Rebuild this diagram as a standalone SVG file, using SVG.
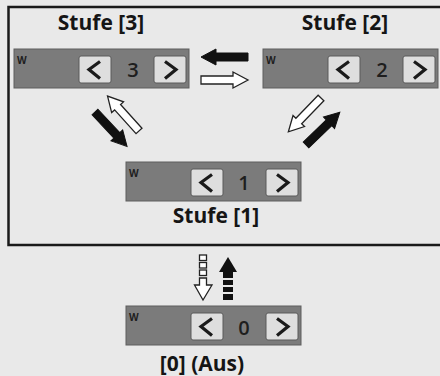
<svg xmlns="http://www.w3.org/2000/svg" xmlns:xlink="http://www.w3.org/1999/xlink" width="440" height="376" viewBox="0 0 440 376">
<style>
.lbl{font-family:"Open Sans","Liberation Sans",sans-serif;font-weight:bold;font-size:21px;fill:#151515;text-anchor:middle}
.num{font-family:"Open Sans","Liberation Sans",sans-serif;font-weight:600;font-size:20px;fill:#1e1e1e;text-anchor:middle}
.w{font-family:"Open Sans","Liberation Sans",sans-serif;font-weight:bold;font-size:10px;fill:#1e1e1e}
.bar{fill:#7b7b7b;stroke:#5e5e5e;stroke-width:1}
.btn{fill:#dedede;stroke:#5a5a5a;stroke-width:1}
.chev{fill:none;stroke:#1a1a1a;stroke-width:3.2;stroke-linejoin:miter}
.ab{fill:#111;stroke:#111;stroke-width:1}
.aw{fill:#fff;stroke:#222;stroke-width:1.3}
</style>
<defs>
<path id="arr" d="M0,-4 H32 V-8 L47,0 L32,8 V4 H0 Z"/>
<g id="widget">
<rect class="bar" x="0" y="0" width="175" height="39"/>
<text class="w" x="3" y="15">W</text>
<rect class="btn" x="65" y="7" width="32" height="27" rx="2"/>
<polyline class="chev" points="86,12.5 75,20.5 86,29.5"/>
<rect class="btn" x="140" y="7" width="32" height="27" rx="2"/>
<polyline class="chev" points="151,12.5 162,20.5 151,29.5"/>
</g>
</defs>
<rect width="440" height="376" fill="#e9e9e9"/>
<rect x="8.5" y="7" width="436" height="238" fill="none" stroke="#1a1a1a" stroke-width="2.5"/>

<g id="stufe3">
<text class="lbl" x="101" y="30">Stufe [3]</text>
<g transform="translate(14,49)"><use xlink:href="#widget"/><text class="num" x="119" y="28">3</text></g>
</g>
<g id="stufe2">
<text class="lbl" x="345" y="30">Stufe [2]</text>
<g transform="translate(263,49)"><use xlink:href="#widget"/><text class="num" x="119" y="28">2</text></g>
</g>
<g id="stufe1">
<g transform="translate(126,162)"><use xlink:href="#widget"/><text class="num" x="118" y="28">1</text></g>
<text class="lbl" x="216" y="223">Stufe [1]</text>
</g>
<g id="stufe0">
<g transform="translate(126,306)"><use xlink:href="#widget"/><text class="num" x="118" y="29">0</text></g>
<text class="lbl" x="202" y="371">[0] (Aus)</text>
</g>

<g id="connectors">
<use xlink:href="#arr" class="ab" transform="translate(248,57) rotate(180)"/>
<use xlink:href="#arr" class="aw" transform="translate(201,80)"/>
<use xlink:href="#arr" class="ab" transform="translate(95,112) rotate(47)"/>
<use xlink:href="#arr" class="aw" transform="translate(139,131) rotate(-132)"/>
<use xlink:href="#arr" class="aw" transform="translate(321,98) rotate(134)"/>
<use xlink:href="#arr" class="ab" transform="translate(306,145) rotate(-44)"/>
<g class="aw">
<rect x="199.5" y="255" width="7" height="5.5"/>
<rect x="199.5" y="262.5" width="7" height="5.5"/>
<rect x="199.5" y="270" width="7" height="5.5"/>
<path d="M199.5,278 H206.5 V285 H212 L203,300 L194.5,285 H199.5 Z"/>
</g>
<g fill="#111">
<path d="M228,257 L237,272 H219 Z"/>
<rect x="223" y="272" width="10" height="6"/>
<rect x="223" y="280" width="10" height="5"/>
<rect x="223" y="287" width="10" height="5"/>
<rect x="223" y="294" width="10" height="6"/>
</g>
</g>
</svg>
